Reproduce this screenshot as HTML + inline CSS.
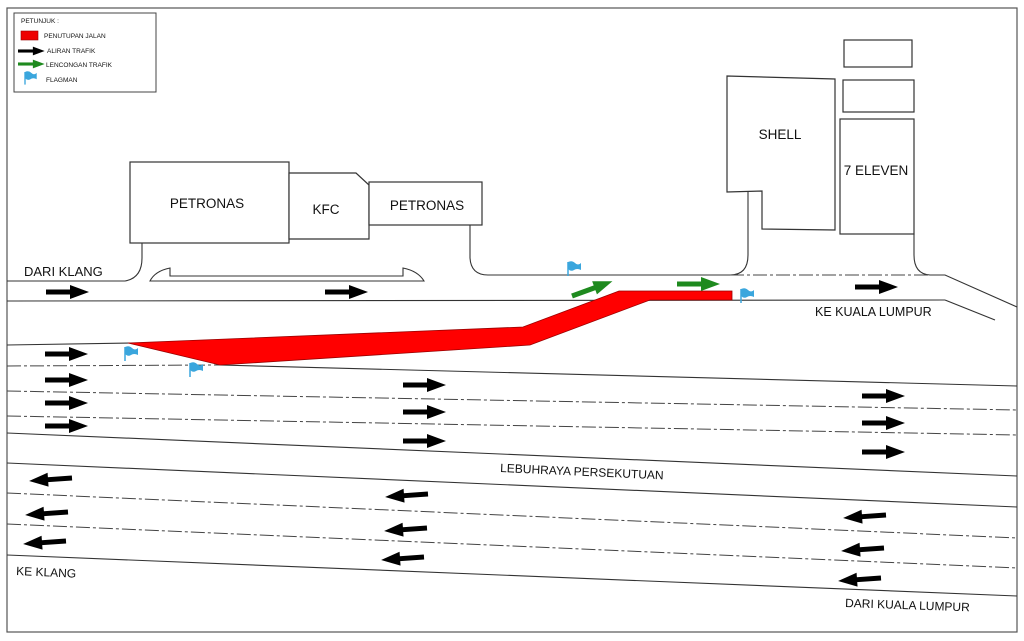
<!DOCTYPE html>
<html><head><meta charset="utf-8"><style>
html,body{margin:0;padding:0;background:#fff;}
svg{display:block;}
text{font-family:"Liberation Sans",sans-serif;fill:#111;}
</style></head><body>
<svg width="1024" height="641" viewBox="0 0 1024 641" xmlns="http://www.w3.org/2000/svg">
<defs>
<g id="ar"><rect x="0" y="-2.5" width="26" height="5" fill="#000"/><polygon points="24,-7 43,0 24,7" fill="#000"/></g>
<g id="ga"><rect x="0" y="-2.5" width="26" height="5" fill="#1e8a1e"/><polygon points="24,-7 43,0 24,7" fill="#1e8a1e"/></g>
<g id="fl"><line x1="0" y1="0" x2="0" y2="14" stroke="#3aa6dd" stroke-width="1.5"/><path d="M0,0 Q4,-2 7,1 T13,1 L13,8 Q9,6 6,8 T0,7 Z" fill="#3aa6dd"/></g>
</defs>
<rect x="7" y="8" width="1010" height="624" fill="#fff" stroke="#555" stroke-width="1.2"/>
<!-- legend -->
<rect x="14" y="13" width="142" height="79" fill="#fff" stroke="#444" stroke-width="1"/>
<text x="21" y="23" font-size="6.5">PETUNJUK :</text>
<rect x="21" y="31" width="17" height="9" fill="#e00" stroke="#900" stroke-width="0.6"/>
<text x="44" y="38" font-size="6.5">PENUTUPAN JALAN</text>
<g transform="translate(18,51) scale(0.62)"><use href="#ar"/></g>
<text x="47" y="53" font-size="6.5">ALIRAN TRAFIK</text>
<g transform="translate(18,64) scale(0.62)"><use href="#ga"/></g>
<text x="46" y="67" font-size="6.5">LENCONGAN TRAFIK</text>
<g transform="translate(25,72) scale(0.9)"><use href="#fl"/></g>
<text x="46" y="82" font-size="6.5">FLAGMAN</text>
<!-- buildings -->
<g fill="#fff" stroke="#333" stroke-width="1.2">
<rect x="130" y="162" width="159" height="81"/>
<polygon points="289,173 356,173 369,185 369,239 289,239"/>
<rect x="369" y="182" width="113" height="43"/>
<polygon points="727,76 835,79 835,230 762,229 762,191 727,192"/>
<rect x="844" y="40" width="68" height="27"/>
<rect x="843" y="80" width="71" height="32"/>
<rect x="840" y="119" width="74" height="115"/>
</g>
<text x="207" y="208" font-size="13.5" text-anchor="middle">PETRONAS</text>
<text x="326" y="214" font-size="13.5" text-anchor="middle">KFC</text>
<text x="427" y="210" font-size="13.5" text-anchor="middle">PETRONAS</text>
<text x="780" y="139" font-size="13.5" text-anchor="middle">SHELL</text>
<text x="876" y="175" font-size="13.5" text-anchor="middle">7 ELEVEN</text>
<!-- road edges -->
<g fill="none" stroke="#333" stroke-width="1.1">
<path d="M7,281 L125,281 Q142,278 142,258 L142,243"/>
<path d="M470,225 L470,258 Q471,275 488,275 L730,275 Q748,275 748,255 L748,192"/>
<path d="M914,234 L914,255 Q914,274 930,275 L945,275 L1017,307"/>
<path d="M150,281 Q155,271 170,268 L170,276 L403,276 L403,268 Q418,271 424,281 Z"/>
<line x1="7" y1="301" x2="945" y2="300"/>
<line x1="945" y1="300" x2="995" y2="320"/>
<line x1="7" y1="345" x2="130" y2="343"/>
<line x1="220" y1="365" x2="1017" y2="386"/>
<line x1="7" y1="433" x2="1017" y2="476"/>
<line x1="7" y1="463" x2="1017" y2="507"/>
<line x1="7" y1="555" x2="1017" y2="596"/>
</g>
<g fill="none" stroke="#444" stroke-width="1" stroke-dasharray="14,3,3,3">
<line x1="730" y1="275" x2="930" y2="275"/>
<line x1="7" y1="366" x2="220" y2="365"/>
<line x1="7" y1="391" x2="1017" y2="410"/>
<line x1="7" y1="416" x2="1017" y2="435"/>
<line x1="7" y1="493" x2="1017" y2="538"/>
<line x1="7" y1="524" x2="1017" y2="568"/>
</g>
<!-- closure -->
<polygon points="128,343 523,327 619,291 732,291 732,300 650,300 530,345 220,365" fill="#f00" stroke="#900" stroke-width="0.8"/>
<!-- arrows -->
<use href="#ar" x="46" y="292"/><use href="#ar" x="325" y="292"/><use href="#ar" x="855" y="287"/>
<use href="#ar" x="45" y="354"/><use href="#ar" x="45" y="380"/><use href="#ar" x="45" y="403"/><use href="#ar" x="45" y="426"/>
<use href="#ar" x="403" y="385"/><use href="#ar" x="403" y="412"/><use href="#ar" x="403" y="441"/>
<use href="#ar" x="862" y="396"/><use href="#ar" x="862" y="423"/><use href="#ar" x="862" y="452"/>
<g transform="translate(72,478) scale(-1,1) rotate(4)"><use href="#ar"/></g>
<g transform="translate(68,512) scale(-1,1) rotate(4)"><use href="#ar"/></g>
<g transform="translate(66,541) scale(-1,1) rotate(4)"><use href="#ar"/></g>
<g transform="translate(428,494) scale(-1,1) rotate(4)"><use href="#ar"/></g>
<g transform="translate(427,528) scale(-1,1) rotate(4)"><use href="#ar"/></g>
<g transform="translate(424,557) scale(-1,1) rotate(4)"><use href="#ar"/></g>
<g transform="translate(886,515) scale(-1,1) rotate(4)"><use href="#ar"/></g>
<g transform="translate(884,548) scale(-1,1) rotate(4)"><use href="#ar"/></g>
<g transform="translate(881,578) scale(-1,1) rotate(4)"><use href="#ar"/></g>
<g transform="translate(572,296) rotate(-20)"><use href="#ga"/></g>
<use href="#ga" x="677" y="284"/>
<!-- flags -->
<use href="#fl" x="568" y="262"/><use href="#fl" x="741" y="289"/><use href="#fl" x="125" y="347"/><use href="#fl" x="190" y="363"/>
<!-- labels -->
<text x="24" y="276" font-size="13">DARI KLANG</text>
<text x="815" y="316" font-size="12.5">KE KUALA LUMPUR</text>
<text x="500" y="472" font-size="12" transform="rotate(2.6 500 472)">LEBUHRAYA PERSEKUTUAN</text>
<text x="16" y="575" font-size="12" transform="rotate(2.6 16 575)">KE KLANG</text>
<text x="845" y="607" font-size="12" transform="rotate(2 845 607)">DARI KUALA LUMPUR</text>
</svg>
</body></html>
